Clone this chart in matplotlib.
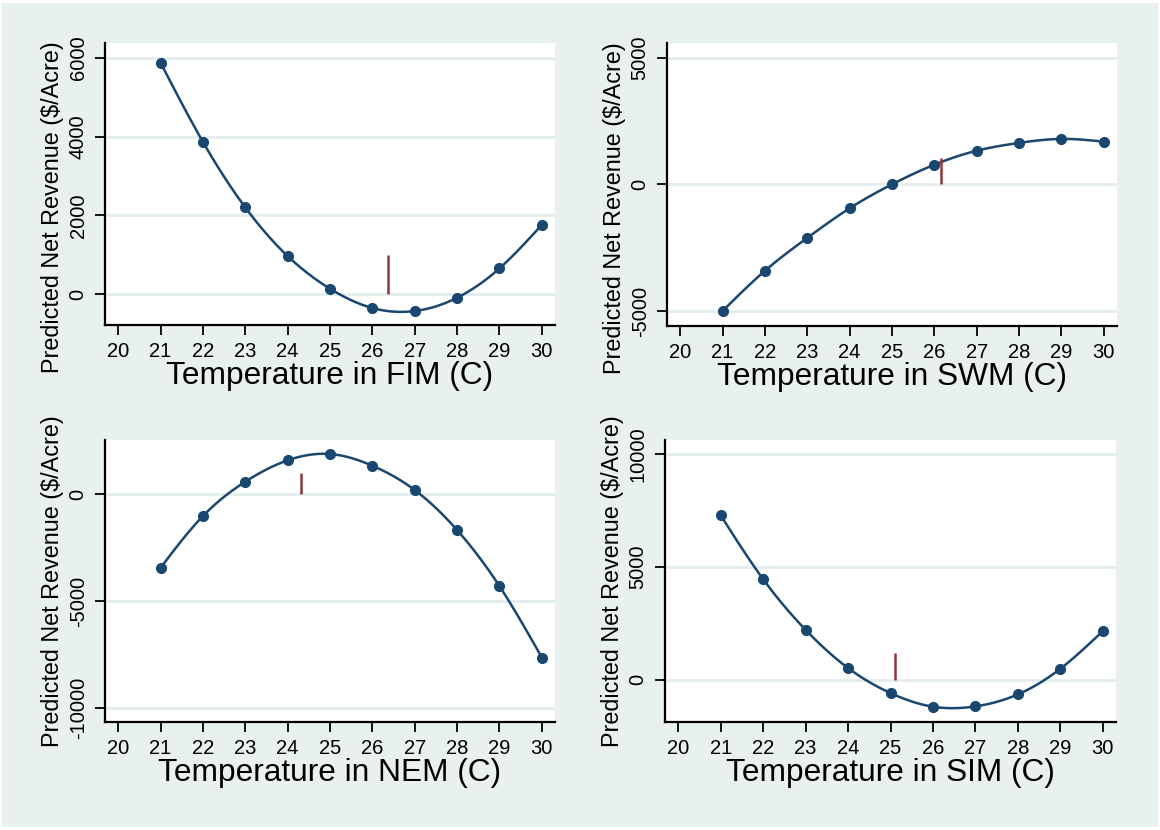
import numpy as np
import matplotlib
matplotlib.use("Agg")
import matplotlib.pyplot as plt
from matplotlib.patches import Rectangle

plt.rcParams['font.family'] = ['Liberation Sans', 'DejaVu Sans']
plt.rcParams['axes.unicode_minus'] = False

# ---------------- data ----------------
temps = [21, 22, 23, 24, 25, 26, 27, 28, 29, 30]
x_ticks = [20, 21, 22, 23, 24, 25, 26, 27, 28, 29, 30]
seasons = ["FIM", "SWM", "NEM", "SIM"]
fim = [5873, 3865, 2203, 970, 142, -347, -423, -86, 658, 1762]
swm = [-5000, -3413, -2114, -945, 0, 774, 1326, 1634, 1791, 1681]
nem = [-3446, -1019, 592, 1596, 1892, 1343, 202, -1676, -4305, -7653]
sim = [7288, 4456, 2212, 518, -590, -1195, -1180, -649, 487, 2155]
mark_temp = [26.36, 26.16, 24.31, 25.11]
mark_height = [1000, 1050, 1000, 1200]
y_ticks = [[0, 2000, 4000, 6000], [-5000, 0, 5000], [-10000, -5000, 0], [0, 5000, 10000]]
y_lims = [(-777, 6370), (-5590, 5575), (-10676, 2549), (-1872, 10620)]
series = [fim, swm, nem, sim]

NAVY = "#1A476F"
MAROON = "#90353B"
BG = "#E8F0F0"
GRID = "#E3EDEE"

W, H = 1160, 830


def natural_spline(x, y, n=300):
    x = np.asarray(x, float)
    y = np.asarray(y, float)
    m = len(x)
    h = np.diff(x)
    A = np.zeros((m, m))
    b = np.zeros(m)
    A[0, 0] = A[-1, -1] = 1.0
    for i in range(1, m - 1):
        A[i, i - 1] = h[i - 1]
        A[i, i] = 2 * (h[i - 1] + h[i])
        A[i, i + 1] = h[i]
        b[i] = 3 * ((y[i + 1] - y[i]) / h[i] - (y[i] - y[i - 1]) / h[i - 1])
    c = np.linalg.solve(A, b)
    bb = (y[1:] - y[:-1]) / h - h * (2 * c[:-1] + c[1:]) / 3
    d = (c[1:] - c[:-1]) / (3 * h)
    xs = np.linspace(x[0], x[-1], n)
    idx = np.clip(np.searchsorted(x, xs) - 1, 0, m - 2)
    dx = xs - x[idx]
    ys = y[idx] + bb[idx] * dx + c[idx] * dx ** 2 + d[idx] * dx ** 3
    return xs, ys


fig = plt.figure(figsize=(W / 100, H / 100), dpi=100, facecolor="white")
fig.patches.append(Rectangle((2 / W, 3 / H), 1156 / W, 824 / H, transform=fig.transFigure,
                             facecolor=BG, edgecolor="none", zorder=-10))

# axes boxes in pixels: left, top, right, bottom
boxes = [(105, 43, 555, 325), (667, 43, 1117, 326), (105, 440, 555, 722), (665, 440, 1116, 722)]
ylabel_y = [0.418, 0.418, 0.5, 0.5]

for k, (l, t, r, b) in enumerate(boxes):
    ax = fig.add_axes([l / W, 1 - b / H, (r - l) / W, (b - t) / H])
    ax.set_facecolor("white")
    ax.set_xlim(19.69, 30.31)
    ax.set_ylim(*y_lims[k])
    for s in ["top", "right"]:
        ax.spines[s].set_visible(False)
    for s in ["left", "bottom"]:
        ax.spines[s].set_linewidth(1.6)
        ax.spines[s].set_color("black")
    ax.set_xticks(x_ticks)
    ax.set_yticks(y_ticks[k])
    ax.tick_params(axis="both", direction="out", length=7.5, width=1.3, labelsize=14.5, colors="black")
    ax.tick_params(axis="x", pad=4.5)
    ax.tick_params(axis="y", pad=5)
    for lab in ax.get_yticklabels():
        lab.set_rotation(90)
        lab.set_va("center")
    ax.grid(axis="y", color=GRID, linewidth=2)
    ax.set_axisbelow(True)

    xs, ys = natural_spline(temps, series[k])
    ax.plot(xs, ys, color=NAVY, linewidth=1.8, zorder=3)
    ax.plot(temps, series[k], "o", color=NAVY, markersize=7, zorder=4)
    ax.vlines(mark_temp[k], 0, mark_height[k], color=MAROON, linewidth=1.8, zorder=5)

    ax.set_xlabel(f"Temperature in {seasons[k]} (C)", fontsize=22.8, labelpad=0)
    ax.set_ylabel("Predicted Net Revenue ($/Acre)", fontsize=16.8, va="center")
    ax.yaxis.set_label_coords(-0.117, ylabel_y[k])

fig.savefig("out.png", dpi=100, facecolor="white")
